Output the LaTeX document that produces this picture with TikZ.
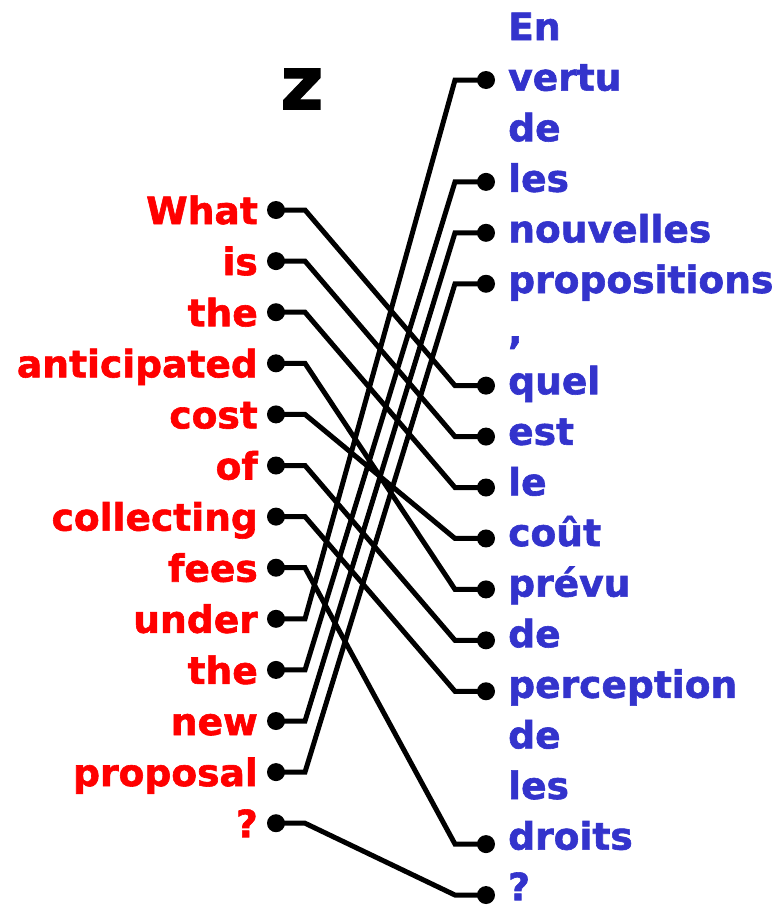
\documentclass[tikz,border=0pt]{standalone}
\usepackage{fontspec}
\setmainfont{DejaVu Sans}[BoldFeatures={FakeBold=1.6}]
\definecolor{enred}{HTML}{FF0000}
\definecolor{frblue}{HTML}{3333CC}
\begin{document}
\begin{tikzpicture}[x=1pt,y=-1pt,
  enword/.style={anchor=base east,inner sep=0pt,text=enred,font=\fontsize{37.6}{37.6}\selectfont\bfseries},
  frword/.style={anchor=base west,inner sep=0pt,text=frblue,font=\fontsize{37.6}{37.6}\selectfont\bfseries},
  dot/.style={circle,fill=black,inner sep=0pt,minimum size=18pt},
  link/.style={line width=5pt,line join=miter}]
\useasboundingbox (0,0) rectangle (784,908);
\node[inner sep=0pt,font=\fontsize{74}{74}\selectfont\bfseries] (title) at (302,89) {z};
% English words
\foreach \w [count=\j from 0] in {What,is,the,anticipated,cost,of,collecting,fees,under,the,new,proposal,?}{
  \node[enword] (L\j) at (258,{224+51.1*\j}) {\w};
  \node[dot] (ld\j) at (276,{210+51.1*\j}) {};
}
% French words
\foreach \w [count=\i from 0] in {En,vertu,de,les,nouvelles,propositions,{,},quel,est,le,co\^ut,pr\'evu,de,perception,de,les,droits,?}{
  \node[frword] (R\i) at (508,{40+50.6*\i}) {\w};
}
\foreach \i in {1,3,4,5,7,8,9,10,11,12,13,16,17}{
  \node[dot] (rd\i) at (486,{80+50.94*(\i-1)}) {};
}
% alignments
\foreach \j/\i in {0/7,1/8,2/9,3/11,4/10,5/12,6/13,7/16,8/1,9/3,10/4,11/5,12/17}{
  \draw[link] (ld\j.center) -- ([xshift=29pt]ld\j.center) -- ([xshift=-31pt]rd\i.center) -- (rd\i.center);
}
\end{tikzpicture}
\end{document}
